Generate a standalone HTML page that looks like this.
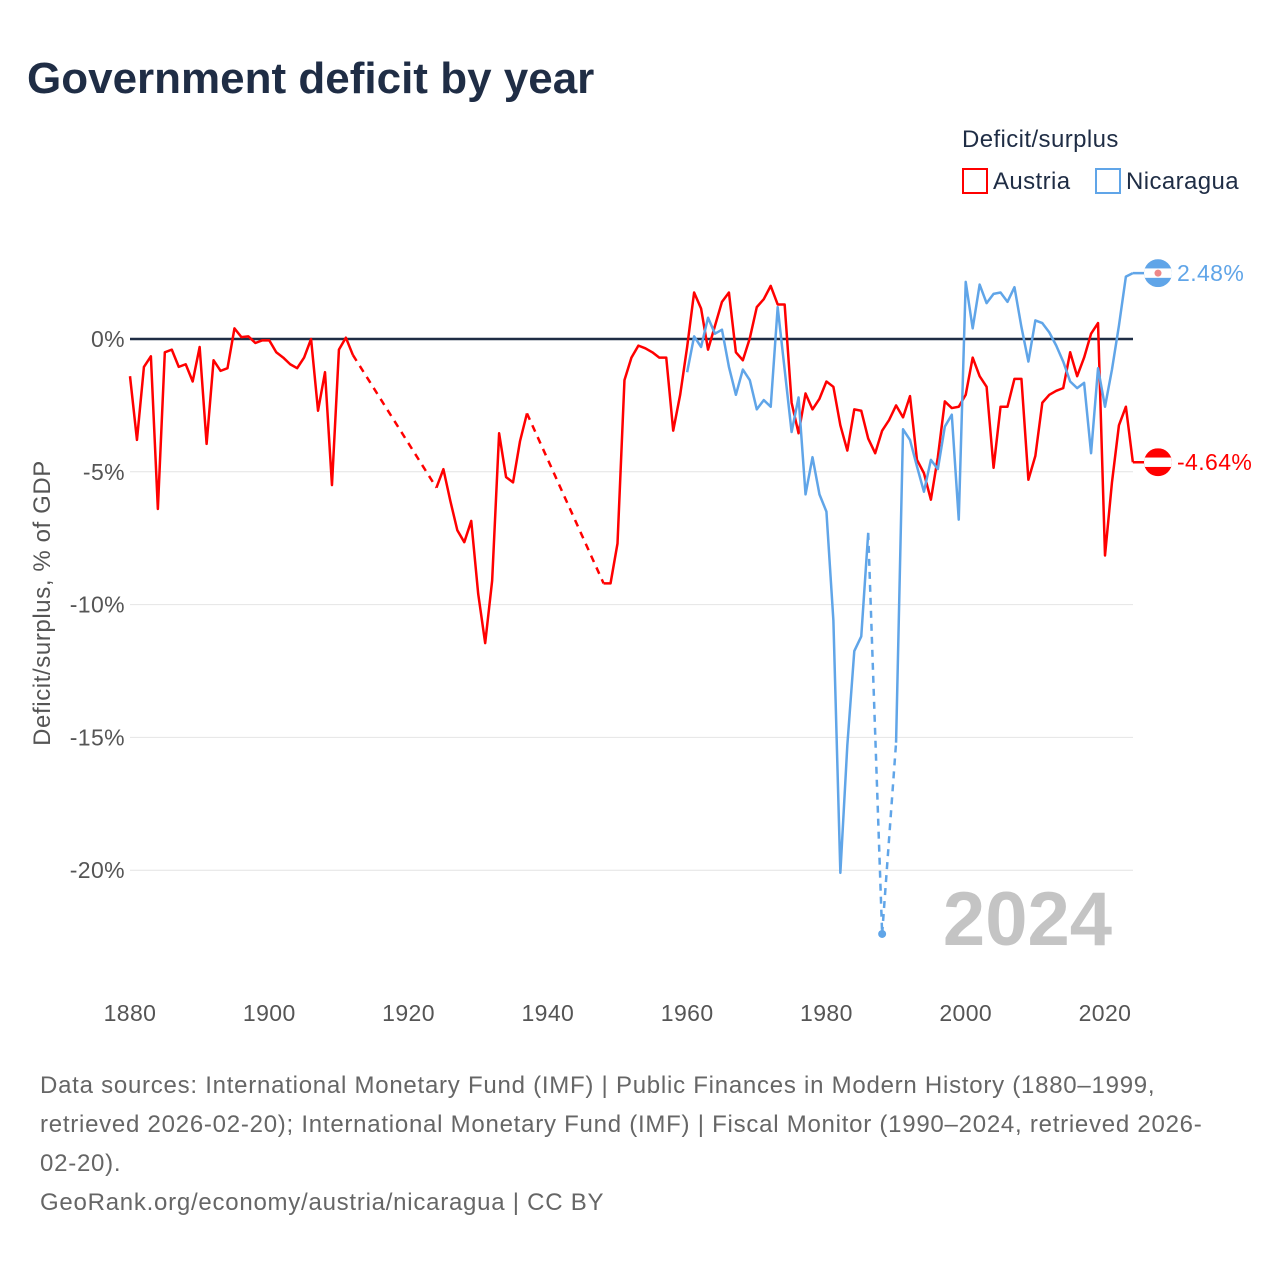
<!DOCTYPE html>
<html><head><meta charset="utf-8"><style>
body{margin:0;background:#fff;font-family:"Liberation Sans",sans-serif;}
#wrap{position:relative;width:1280px;height:1280px;overflow:hidden;}
</style></head><body>
<div id="wrap">
<svg id="svg" width="1280" height="1280" xmlns="http://www.w3.org/2000/svg">
<text x="27" y="93" font-size="44" font-weight="bold" fill="#1f2d45">Government deficit by year</text>
<text x="962" y="147" font-size="24" fill="#1f2d45" letter-spacing="0.4">Deficit/surplus</text>
<g><rect x="963" y="169" width="24" height="24" fill="none" stroke="#ff0000" stroke-width="2"/><text x="993" y="189" font-size="24" fill="#1f2d45" letter-spacing="0.4">Austria</text></g>
<g><rect x="1096" y="169" width="24" height="24" fill="none" stroke="#60a5e8" stroke-width="2"/><text x="1126" y="189" font-size="24" fill="#1f2d45" letter-spacing="0.4">Nicaragua</text></g>
<text transform="translate(50,603) rotate(-90)" text-anchor="middle" font-size="24" letter-spacing="0.6" fill="#555">Deficit/surplus, % of GDP</text>
<g id="grid"></g><g id="marks"></g>
<text x="1112" y="945" text-anchor="end" font-size="76" font-weight="bold" fill="#c4c4c4">2024</text>
<g font-size="24" fill="#666" letter-spacing="0.75">
<text x="40" y="1093">Data sources: International Monetary Fund (IMF) | Public Finances in Modern History (1880–1999,</text>
<text x="40" y="1132">retrieved 2026-02-20); International Monetary Fund (IMF) | Fiscal Monitor (1990–2024, retrieved 2026-</text>
<text x="40" y="1171">02-20).</text>
<text x="40" y="1210">GeoRank.org/economy/austria/nicaragua | CC BY</text>
</g>
</svg></div>
<script>
const austriaYears=[1880,1881,1882,1883,1884,1885,1886,1887,1888,1889,1890,1891,1892,1893,1894,1895,1896,1897,1898,1899,1900,1901,1902,1903,1904,1905,1906,1907,1908,1909,1910,1911,1912,1924,1925,1926,1927,1928,1929,1930,1931,1932,1933,1934,1935,1936,1937,1948,1949,1950,1951,1952,1953,1954,1955,1956,1957,1958,1959,1960,1961,1962,1963,1964,1965,1966,1967,1968,1969,1970,1971,1972,1973,1974,1975,1976,1977,1978,1979,1980,1981,1982,1983,1984,1985,1986,1987,1988,1989,1990,1991,1992,1993,1994,1995,1996,1997,1998,1999,2000,2001,2002,2003,2004,2005,2006,2007,2008,2009,2010,2011,2012,2013,2014,2015,2016,2017,2018,2019,2020,2021,2022,2023,2024];
const austriaValues=[-1.4,-3.8,-1.05,-0.65,-6.4,-0.5,-0.4,-1.05,-0.95,-1.6,-0.3,-3.95,-0.8,-1.2,-1.1,0.4,0.07,0.1,-0.15,-0.05,-0.05,-0.5,-0.7,-0.95,-1.1,-0.7,0,-2.7,-1.25,-5.5,-0.4,0.05,-0.6,-5.6,-4.9,-6.1,-7.2,-7.65,-6.85,-9.6,-11.45,-9.1,-3.55,-5.2,-5.4,-3.85,-2.8,-9.2,-9.2,-7.7,-1.55,-0.7,-0.25,-0.35,-0.5,-0.7,-0.7,-3.45,-2.1,-0.3,1.75,1.15,-0.4,0.5,1.4,1.75,-0.5,-0.8,0.03,1.2,1.5,2.0,1.3,1.3,-2.4,-3.55,-2.05,-2.65,-2.25,-1.6,-1.8,-3.25,-4.2,-2.65,-2.7,-3.75,-4.3,-3.45,-3.05,-2.5,-2.95,-2.15,-4.55,-5.05,-6.05,-4.45,-2.35,-2.6,-2.55,-2.1,-0.7,-1.4,-1.8,-4.85,-2.55,-2.55,-1.5,-1.5,-5.3,-4.4,-2.4,-2.1,-1.95,-1.85,-0.5,-1.4,-0.7,0.2,0.6,-8.15,-5.4,-3.25,-2.55,-4.64];
const nicaraguaYears=[1960,1961,1962,1963,1964,1965,1966,1967,1968,1969,1970,1971,1972,1973,1974,1975,1976,1977,1978,1979,1980,1981,1982,1983,1984,1985,1986,1988,1990,1991,1992,1993,1994,1995,1996,1997,1998,1999,2000,2001,2002,2003,2004,2005,2006,2007,2008,2009,2010,2011,2012,2013,2014,2015,2016,2017,2018,2019,2020,2021,2022,2023,2024];
const nicaraguaValues=[-1.25,0.1,-0.3,0.8,0.2,0.35,-1.05,-2.1,-1.15,-1.55,-2.65,-2.3,-2.55,1.2,-1.15,-3.5,-2.2,-5.85,-4.45,-5.85,-6.5,-10.6,-20.1,-15.3,-11.75,-11.2,-7.3,-22.4,-15.2,-3.4,-3.8,-4.8,-5.75,-4.55,-4.9,-3.3,-2.85,-6.8,2.15,0.4,2.05,1.35,1.7,1.75,1.4,1.95,0.45,-0.85,0.7,0.6,0.25,-0.25,-0.85,-1.6,-1.85,-1.65,-4.3,-1.1,-2.55,-1.15,0.5,2.35,2.48];
const yTicks=[0,-5,-10,-15,-20];
const yTickLabels=["0%","-5%","-10%","-15%","-20%"];
const xTicks=[1880,1900,1920,1940,1960,1980,2000,2020];

const NS="http://www.w3.org/2000/svg";
const X=y=>130+(y-1880)*975/140;
const Y=v=>339-v*26.56;
function mk(tag,attrs,parent){const e=document.createElementNS(NS,tag);for(const k in attrs)e.setAttribute(k,attrs[k]);parent.appendChild(e);return e;}
const grid=document.getElementById('grid'),marks=document.getElementById('marks');
yTicks.forEach((t,i)=>{
  const l=mk('line',{x1:130,x2:1133,y1:Y(t),y2:Y(t),stroke:t===0?'#1f2d45':'#e4e4e4','stroke-width':t===0?2.5:1},grid);
  
  
  const tx=mk('text',{x:125,y:Y(t)+8,'text-anchor':'end','font-size':23,'letter-spacing':0.4,fill:'#555'},grid);
  tx.textContent=yTickLabels[i];
  
  
});
xTicks.forEach(t=>{
  const tx=mk('text',{x:X(t),y:1021,'text-anchor':'middle','font-size':23,'letter-spacing':0.4,fill:'#555'},grid);
  tx.textContent=t;
  
  
});
function series(years,vals,color,name){
  let seg=[];const segs=[];
  for(let i=0;i<years.length;i++){
    if(i>0&&years[i]-years[i-1]>1){
      segs.push(seg);
      const d=mk('line',{x1:X(years[i-1]),y1:Y(vals[i-1]),x2:X(years[i]),y2:Y(vals[i]),stroke:color,'stroke-width':2.5,'stroke-dasharray':'7,6'},marks);
      
      
      seg=[];
    }
    seg.push([X(years[i]),Y(vals[i])]);
  }
  segs.push(seg);
  segs.forEach(s=>{
    if(s.length===1){
      const c=mk('circle',{cx:s[0][0],cy:s[0][1],r:4,fill:color},marks);
      
      
    }else{
      const p=mk('polyline',{points:s.map(p=>p.join(',')).join(' '),fill:'none',stroke:color,'stroke-width':2.5,'stroke-linejoin':'round'},marks);
      
      
    }
  });
  const lv=vals[vals.length-1],ly=Y(lv),lx=X(years[years.length-1]);
  const t=mk('line',{x1:lx,y1:ly,x2:lx+12,y2:ly,stroke:color,'stroke-width':2.5},marks);
  
  
  return ly;
}
const ay=series(austriaYears,austriaValues,'#ff0000','austria');
const ny=series(nicaraguaYears,nicaraguaValues,'#60a5e8','nicaragua');
function flag(cy,c,name,label,col,emblem){
  const g=mk('g',{},marks);
  
  
  mk('clipPath',{id:'cp'+name},g);
  const cp=g.lastChild;mk('circle',{cx:1158,cy:cy,r:14},cp);
  mk('rect',{x:1144,y:cy-14,width:28,height:28,fill:c,'clip-path':'url(#cp'+name+')'},g);
  mk('rect',{x:1144,y:cy-4.7,width:28,height:9.4,fill:'#fff','clip-path':'url(#cp'+name+')'},g);
  if(emblem)mk('circle',{cx:1158,cy:cy,r:3.5,fill:'#e88'},g);
  const t=mk('text',{x:1177,y:cy+8,'font-size':23,'letter-spacing':0.4,fill:col},marks);
  t.textContent=label;
  
  
}
flag(ny,'#60a5e8','nicaragua',nicaraguaValues[nicaraguaValues.length-1].toFixed(2)+'%','#60a5e8',true);
flag(ay,'#ff0000','austria',austriaValues[austriaValues.length-1].toFixed(2)+'%','#ff0000',false);
</script>
</body></html>
